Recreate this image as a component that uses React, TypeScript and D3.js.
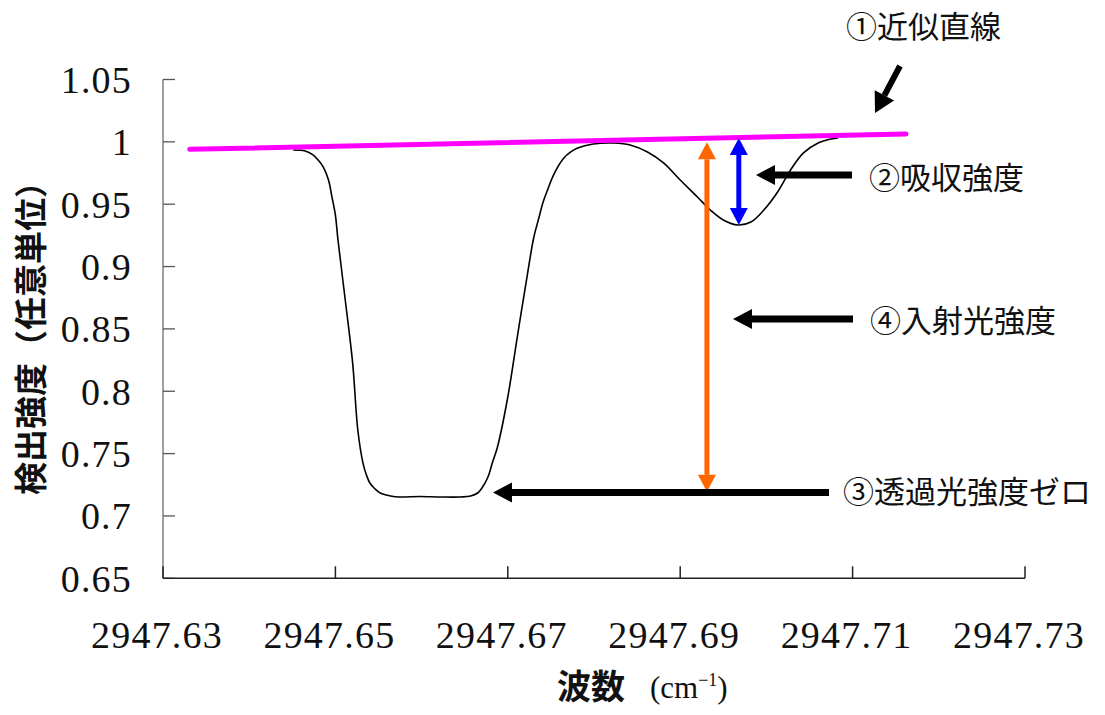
import React from "react";
import * as d3 from "d3";

// ---- data ----
const wavenumber = [
  2947.6451, 2947.6465, 2947.6474, 2947.648, 2947.6486, 2947.6492, 2947.6496, 2947.65, 2947.6503,
  2947.6511, 2947.652, 2947.6526, 2947.6532, 2947.6536, 2947.654, 2947.6546, 2947.6552, 2947.6564,
  2947.6575, 2947.6598, 2947.6622, 2947.6645, 2947.6657, 2947.6665, 2947.667, 2947.6677, 2947.6682,
  2947.6688, 2947.67, 2947.6711, 2947.6723, 2947.673, 2947.6736, 2947.6741, 2947.6747, 2947.6753,
  2947.6765, 2947.6773, 2947.6781, 2947.6799, 2947.6823, 2947.6842, 2947.6862, 2947.6881, 2947.69,
  2947.692, 2947.6935, 2947.695, 2947.6967, 2947.6982, 2947.6997, 2947.7013, 2947.7028, 2947.7043,
  2947.706, 2947.7075, 2947.7083,
];
const intensity = [
  0.9935, 0.9927, 0.9895, 0.9854, 0.9798, 0.9694, 0.9558, 0.9413, 0.9213,
  0.8756, 0.8227, 0.7689, 0.7424, 0.7328, 0.7264, 0.7216, 0.7184, 0.716,
  0.7152, 0.7156, 0.7152, 0.7152, 0.716, 0.7184, 0.7224, 0.7312, 0.7424,
  0.7553, 0.7954, 0.8435, 0.8948, 0.9229, 0.9389, 0.9518, 0.963, 0.9734,
  0.987, 0.9919, 0.9951, 0.9983, 0.9991, 0.9975, 0.9919, 0.983, 0.9694,
  0.9558, 0.9453, 0.9373, 0.9333, 0.9357, 0.9453, 0.9598, 0.9774, 0.9911,
  0.9991, 1.0023, 1.0031,
];
// ① baseline fit (two end points)
const baselineX = [2947.6331, 2947.7162];
const baselineY = [0.994, 1.0063];
// ④ incident-light arrow (orange) and ② absorption arrow (blue)
const incidentArrowX = 2947.6931;
const incidentArrowY = [0.7194, 0.9996];
const absorbArrowX = 2947.6968;
const absorbArrowY = [0.9333, 1.0031];

const xTicks = [2947.63, 2947.65, 2947.67, 2947.69, 2947.71, 2947.73];
const xTickLabels = ["2947.63", "2947.65", "2947.67", "2947.69", "2947.71", "2947.73"];
const yTicks = [0.65, 0.7, 0.75, 0.8, 0.85, 0.9, 0.95, 1, 1.05];
const yTickLabels = ["0.65", "0.7", "0.75", "0.8", "0.85", "0.9", "0.95", "1", "1.05"];

const labels = ["①近似直線", "②吸収強度", "④入射光強度", "③透過光強度ゼロ"];
const yTitle = "検出強度（任意単位）";
const xTitle = "波数";

// ---- layout ----
const W = 1105;
const H = 715;
const left = 163;
const right = 1025;
const top = 79.5;
const bottom = 578.3;

const x = d3.scaleLinear().domain([2947.63, 2947.73]).range([left, right]);
const y = d3.scaleLinear().domain([0.65, 1.05]).range([bottom, top]);

const serifStyle = { fontFamily: "'Liberation Serif', 'Times New Roman', 'DejaVu Serif', serif" };
const cjkStyle = { fontFamily: "'Noto Sans CJK JP', 'Noto Sans', sans-serif" };

function head(tx: number, ty: number, fx: number, fy: number, len: number, half: number) {
  const dx = tx - fx;
  const dy = ty - fy;
  const d = Math.hypot(dx, dy);
  const ux = dx / d;
  const uy = dy / d;
  const bx = tx - ux * len;
  const by = ty - uy * len;
  const px = -uy;
  const py = ux;
  return {
    points: `${tx},${ty} ${bx + px * half},${by + py * half} ${bx - px * half},${by - py * half}`,
    bx,
    by,
  };
}

function Arrow({ fx, fy, tx, ty, color, w = 6, len = 18, half = 10 }: any) {
  const h = head(tx, ty, fx, fy, len, half);
  return (
    <g>
      <line x1={fx} y1={fy} x2={h.bx} y2={h.by} stroke={color} strokeWidth={w} />
      <polygon points={h.points} fill={color} />
    </g>
  );
}

function DoubleArrow({ xv, y1v, y2v, color }: any) {
  const px = x(xv);
  const ya = y(y1v);
  const yb = y(y2v);
  const h1 = head(px, yb, px, ya, 17, 9);
  const h2 = head(px, ya, px, yb, 17, 9);
  return (
    <g>
      <line x1={px} y1={h2.by} x2={px} y2={h1.by} stroke={color} strokeWidth={5} />
      <polygon points={h1.points} fill={color} />
      <polygon points={h2.points} fill={color} />
    </g>
  );
}

export default function App() {
  const pts = wavenumber.map((w, i) => [w, intensity[i]] as [number, number]);
  const line = d3
    .line<[number, number]>()
    .x((d) => x(d[0]))
    .y((d) => y(d[1]))
    .curve(d3.curveCatmullRom.alpha(0.5));
  const baseline = d3
    .line<[number, number]>()
    .x((d) => x(d[0]))
    .y((d) => y(d[1]));
  const basePts = baselineX.map((b, i) => [b, baselineY[i]] as [number, number]);

  return (
    <svg
      width={W}
      height={H}
      viewBox={`0 0 ${W} ${H}`}
      style={{ position: "absolute", left: 0, top: 0, background: "#fff" }}
    >
      <rect x={0} y={0} width={W} height={H} fill="#fff" />
      {/* y axis */}
      <line x1={left} y1={top} x2={left} y2={bottom} stroke="#808080" strokeWidth={1.5} />
      {yTicks.map((t, i) => (
        <g key={"y" + i}>
          <line x1={left} x2={left + 12} y1={y(t)} y2={y(t)} stroke="#555" strokeWidth={1.3} />
          <text
            x={132}
            y={y(t) + 13.5}
            textAnchor="end"
            fontSize={38}
            letterSpacing={1.2}
            fill="#111"
            style={serifStyle}
          >
            {yTickLabels[i]}
          </text>
        </g>
      ))}
      {/* x axis */}
      <line x1={left} y1={bottom} x2={right} y2={bottom} stroke="#222" strokeWidth={1.5} />
      {xTicks.map((t, i) => (
        <g key={"x" + i}>
          <line x1={x(t)} x2={x(t)} y1={bottom - 12} y2={bottom} stroke="#222" strokeWidth={1.5} />
          <text
            x={x(t) - 6}
            y={648}
            textAnchor="middle"
            fontSize={38}
            letterSpacing={1.2}
            fill="#111"
            style={serifStyle}
          >
            {xTickLabels[i]}
          </text>
        </g>
      ))}

      {/* axis titles */}
      <text
        transform="translate(43,330) rotate(-90)"
        textAnchor="middle"
        fontWeight={700}
        fontSize={33}
        fill="#111"
        style={cjkStyle}
      >
        {yTitle}
      </text>
      <text x={557} y={699} fontWeight={700} fontSize={34} fill="#111" style={cjkStyle}>
        {xTitle}
      </text>
      <text x={650} y={698} fontSize={31} fill="#111" style={serifStyle}>
        (cm
        <tspan fontSize={18} dy={-12}>
          −1
        </tspan>
        <tspan dy={12}>)</tspan>
      </text>

      {/* spectrum */}
      <path d={line(pts) || ""} fill="none" stroke="#000" strokeWidth={1.6} />
      {/* ① baseline */}
      <path d={baseline(basePts) || ""} fill="none" stroke="#FF00FF" strokeWidth={5} strokeLinecap="round" />

      {/* double arrows */}
      <DoubleArrow xv={incidentArrowX} y1v={incidentArrowY[0]} y2v={incidentArrowY[1]} color="#FF6600" />
      <DoubleArrow xv={absorbArrowX} y1v={absorbArrowY[0]} y2v={absorbArrowY[1]} color="#0000FF" />

      {/* annotation arrows */}
      <Arrow fx={900} fy={66} tx={875} ty={113} color="#000" w={6} len={20} half={11} />
      <Arrow fx={852} fy={175} tx={756} ty={175} color="#000" w={7} len={19} half={10} />
      <Arrow fx={853} fy={319} tx={733} ty={319} color="#000" w={7} len={19} half={10} />
      <Arrow fx={829} fy={492.5} tx={493} ty={492.5} color="#000" w={7} len={19} half={10} />

      {/* labels */}
      <text x={846} y={38} fontSize={31} fill="#111" style={cjkStyle}>
        {labels[0]}
      </text>
      <text x={869} y={189} fontSize={31} fill="#111" style={cjkStyle}>
        {labels[1]}
      </text>
      <text x={870} y={332} fontSize={31} fill="#111" style={cjkStyle}>
        {labels[2]}
      </text>
      <text x={843} y={503} fontSize={31} fill="#111" style={cjkStyle}>
        {labels[3]}
      </text>
    </svg>
  );
}
